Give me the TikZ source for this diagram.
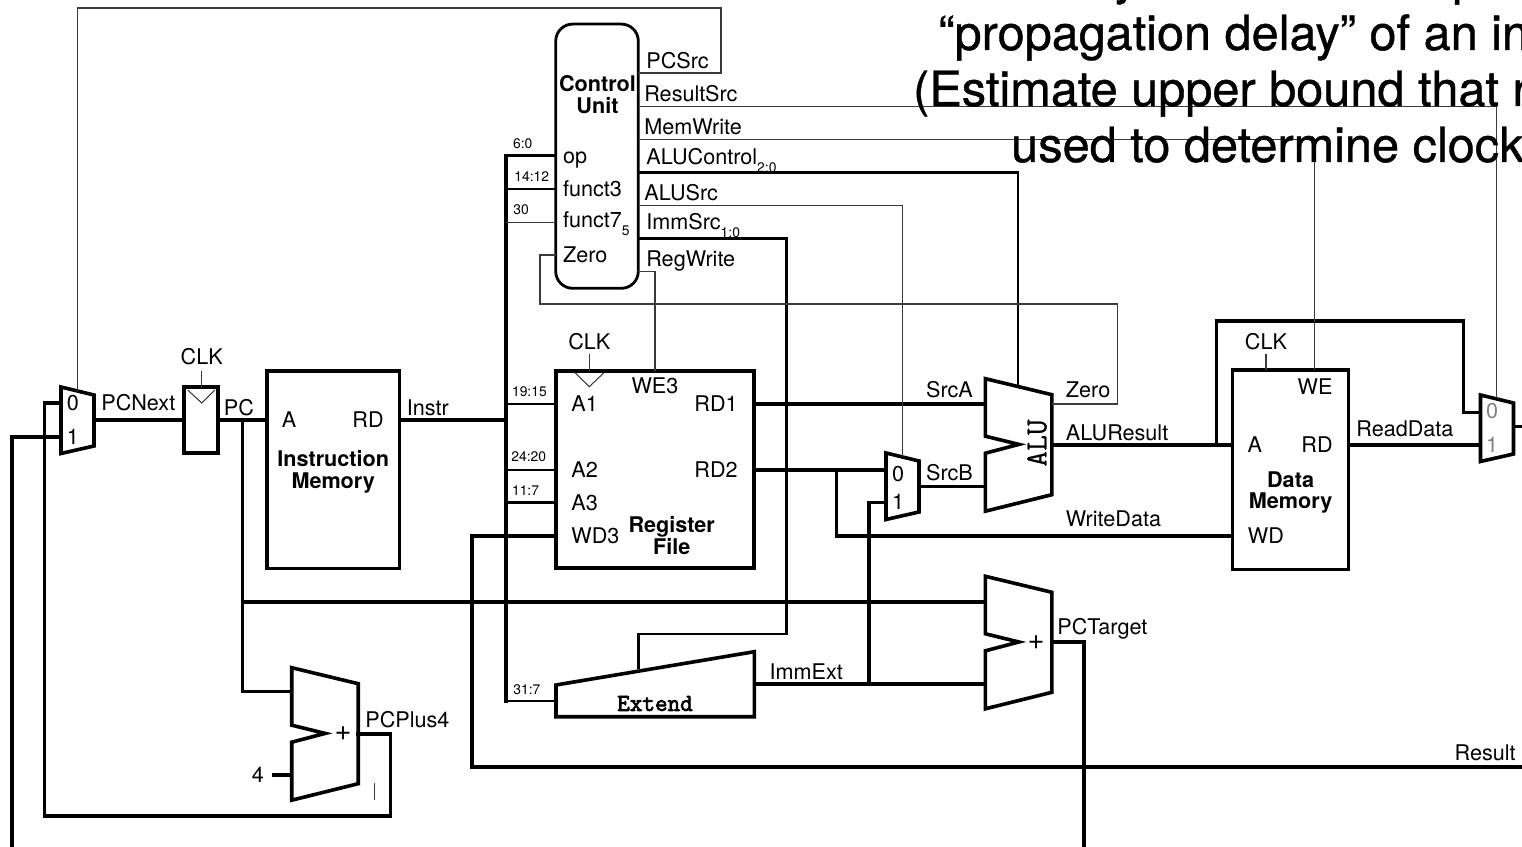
\documentclass[tikz,border=0pt]{standalone}
\usepackage{fontspec}
\setmainfont{TeX Gyre Heros}
\newfontfamily\headfont[FakeBold=0.8]{TeX Gyre Heros}
\newfontfamily\codefont[FakeBold=0.7]{Latin Modern Mono}
\newfontfamily\extfont[FakeBold=3]{Latin Modern Mono}
\usepackage{xcolor}
\definecolor{muxgrey}{HTML}{808080}
\definecolor{ctrl}{HTML}{3A3A3A}
\newcommand{\subtxt}[1]{\raisebox{-4.6pt}{\fontsize{7.9}{8}\selectfont #1}}
\tikzset{
  blockbox/.style={draw,line width=2.05pt,outer sep=0pt,inner sep=0pt},
  blockline/.style={line width=2.05pt,line join=miter},
  wire/.style={line width=2pt,line join=miter,line cap=rect},
  midwire/.style={line width=1.4pt,line join=miter,line cap=rect},
  ctrlwire/.style={line width=0.6pt,ctrl,line join=miter},
  sig/.style={font=\fontsize{12.3}{14}\selectfont,inner sep=0pt,text height=8.9pt,text depth=0pt},
  sigl/.style={sig,anchor=west},
  tinylbl/.style={font=\fontsize{7.9}{9}\selectfont,inner sep=0pt,text height=5.7pt,text depth=0pt,anchor=west},
  boldlbl/.style={font=\fontsize{12.3}{12.5}\selectfont\bfseries,inner sep=0pt,align=center},
  pluslbl/.style={font=\fontsize{16.5}{18}\selectfont,inner sep=0pt},
  headline/.style={font=\fontsize{27.7}{30}\headfont,inner sep=0pt,anchor=base west}
}

\begin{document}
\begin{tikzpicture}[x=0.02cm,y=-0.02cm]
  \useasboundingbox (0,0) rectangle (1522,847);
  \clip (0,0) rectangle (1522,847);

  % Pins and wire corners
  \foreach \pin/\px/\py in {
    pcMuxIn0/61/403, pcMuxIn1/61/437, pcMuxOut/95/420, pcMuxSel/77.7/391,
    pcRegIn/184/420, pcRegOut/218/420, pcClkTop/201.7/371, pcClkBot/201.7/387,
    pcTapA/242.5/420, pcTapB/242.5/602, imA/267/420, imRD/399.5/420,
    plusInA/291.7/691.7, plusInB/291.7/775, plusFour/274/775, plusOut/358/734,
    plusCorner/390.7/816, loopCorner/44.5/816, pcInEnd/12/850,
    cursorTop/374.3/783, cursorBot/374.3/800,
    busTop/506/155.7, busTap/506/420, busBot/506/701,
    cuOp/555.7/155.7, cuFn3/555.7/189, cuFn7/555.7/222.3, cuZero/555.7/255,
    tapFn3/506/189, tapFn7/506/222.3,
    cuPCSrc/638.3/73, cuRes/638.3/106.7, cuMem/638.3/139.3, cuALU/638.3/172.7,
    cuSrc/638.3/205.7, cuImm/638.3/238.7, cuReg/638.3/271.7,
    topRight/721/8, zeroLeft/540/304, zeroRight/1117.5/304, aluZero/1052/404,
    rfWE/655/370.7, rfClkTop/589.3/354, rfClkBot/589.3/370.7,
    tapA1/506/404, tapA2/506/470, tapA3/506/502.7,
    rfA1/556/404, rfA2/556/470, rfA3/556/502.7, rfWD/556/536,
    rfRD1/754.3/404, rfRD2/754.3/470,
    immDrop/786.7/634, immBend/638.3/634, extTop/638.3/668, extIn/556/701,
    extOut/754.3/684, immTap/869/684, srcbIn0/886/470, srcbIn1/886/502.3,
    srcbOut/919/486.7, srcbSel/902.6/456.7, wdTap/836.7/470,
    aluInA/985.4/404, aluInB/985.4/486.7, aluCtl/1018/386.6, aluOut/1052/445,
    tgtInA/985.4/602, tgtInB/985.4/684, tgtOut/1052/642, tgtEnd/1084/850,
    dmA/1232.7/445, dmWD/1232.7/536, dmRD/1348.4/445, dmWE/1314.7/370,
    dmClkTop/1266/354, dmClkBot/1266/370, dmTap/1216.7/445,
    resLoop/1463.6/321, resIn0/1480.5/412.3, resIn1/1480.5/445,
    resOut/1513.4/426.7, resEnd/1525/426.7, resSel/1496.6/398,
    resultCorner/472/767, resultEnd/1525/767
  } \coordinate (\pin) at (\px,\py);

  % Blocks
  \node[blockbox,minimum width=0.68cm,minimum height=1.326cm] (PCReg) at (201,420) {};
  \node[blockbox,minimum width=2.65cm,minimum height=3.96cm] (InstrMem) at (333.2,469.7) {};
  \node[blockbox,minimum width=3.966cm,minimum height=3.952cm] (RegFile) at (655.1,469.5) {};
  \node[blockbox,minimum width=2.314cm,minimum height=3.986cm] (DataMem) at (1290.5,469.7) {};
  \node[draw,line width=1.6pt,rounded corners=0.34cm,outer sep=0pt,inner sep=0pt,minimum width=1.652cm,minimum height=5.286cm] (CtrlUnit) at (597,156.2) {};

  % Muxes and adders
  \foreach \mx/\my in {61/387, 886/453, 1480.5/395}
    \draw[blockline,shift={(\mx,\my)}] (0,0) -- (33,8) -- (33,59) -- (0,66.5) -- cycle;
  \foreach \ax/\ay in {985.4/378.7, 985.4/576.3, 291.7/667.7}
    \draw[blockline,shift={(\ax,\ay)}] (0,0) -- (66.5,16) -- (66.5,116) -- (0,132.5)
      -- (0,74.5) -- (33.5,65.7) -- (0,57.5) -- cycle;
  \draw[blockline] (556,685) -- (754.3,651.7) -- (754.3,716.7) -- (556,716.7) -- cycle;

  % Clock triangles
  \draw[ctrlwire] (187.7,390) -- (201.7,403) -- (215,390);
  \draw[ctrlwire] (575,372.7) -- (589.3,386.7) -- (604,372.7);

  % Datapath
  \draw[wire] (pcMuxOut) -- (pcRegIn);
  \draw[wire] (pcRegOut) -- (imA);
  \draw[wire] (pcTapA) |- (plusInA);
  \draw[wire] (pcTapB) -- (tgtInA);
  \draw[wire] (plusFour) -- (plusInB);
  \draw[wire] (plusOut) -| (plusCorner) -- (loopCorner) |- (pcMuxIn0);
  \draw[wire] (pcMuxIn1) -| (pcInEnd);
  \draw[wire] (imRD) -- (busTap);
  \draw[wire] (busTop) -- (busBot);
  \draw[midwire] (busTop) -- (cuOp);
  \draw[midwire] (tapFn3) -- (cuFn3);
  \draw[midwire] (tapA1) -- (rfA1);
  \draw[midwire] (tapA2) -- (rfA2);
  \draw[midwire] (tapA3) -- (rfA3);
  \draw[midwire] (busBot) -- (extIn);
  \draw[wire] (rfRD1) -- (aluInA);
  \draw[wire] (rfRD2) -- (srcbIn0);
  \draw[wire] (wdTap) |- (dmWD);
  \draw[wire] (srcbOut) -- (aluInB);
  \draw[wire] (extOut) -- (tgtInB);
  \draw[wire] (immTap) |- (srcbIn1);
  \draw[wire] (tgtOut) -| (tgtEnd);
  \draw[wire] (aluOut) -- (dmA);
  \draw[wire] (dmTap) |- (resLoop) |- (resIn0);
  \draw[wire] (dmRD) -- (resIn1);
  \draw[wire] (resOut) -- (resEnd);
  \draw[wire] (rfWD) -| (resultCorner) |- (resultEnd);

  % Control lines
  \draw[midwire] (cuALU) -| (aluCtl);
  \draw[midwire] (cuImm) -| (immDrop) -| (extTop);
  \draw[ctrlwire] (cuPCSrc) -| (topRight) -| (pcMuxSel);
  \draw[ctrlwire] (cuRes) -| (resSel);
  \draw[ctrlwire] (cuMem) -| (dmWE);
  \draw[ctrlwire] (cuSrc) -| (srcbSel);
  \draw[ctrlwire] (cuReg) -| (rfWE);
  \draw[ctrlwire] (tapFn7) -- (cuFn7);
  \draw[ctrlwire] (cuZero) -| (zeroLeft) |- (zeroRight) |- (aluZero);
  \draw[ctrlwire] (pcClkTop) -- (pcClkBot);
  \draw[ctrlwire] (rfClkTop) -- (rfClkBot);
  \draw[ctrlwire] (dmClkTop) -- (dmClkBot);
  \draw[ctrlwire] (cursorTop) -- (cursorBot);

  % PC side
  \node[sig] (muxZero) at (73,403) {0};
  \node[sig] (muxOne) at (73,437) {1};
  \node[sigl] (lblPCNext) at (101,403) {PCNext};
  \node[sig] (lblClkPC) at (201.7,357) {CLK};
  \node[sig] (lblPC) at (239,407.5) {PC};
  \node[sig] (pinA) at (289,420) {A};
  \node[sig] (pinRD) at (368,420) {RD};
  \node[boldlbl] (lblInstrMem) at (333.2,472) {Instruction\\Memory};
  \node[sigl] (lblInstr) at (406.5,407.5) {Instr};
  \node[sig] (lblFour) at (258,775) {4};
  \node[pluslbl] (lblPlusA) at (343,734) {+};
  \node[sigl] (lblPCPlus) at (365,719.5) {PCPlus4};

  % Control unit
  \node[boldlbl] (lblCtrl) at (597.5,94.5) {Control\\Unit};
  \node[sigl] (pinOp) at (562.7,156) {op};
  \node[sigl] (pinFnA) at (562.7,189) {funct3};
  \node[sigl] (pinFnB) at (562.7,219.5) {funct7\subtxt{5}};
  \node[sigl] (pinZero) at (562.7,255) {Zero};
  \node[sigl] (lblPCSrc) at (646,61) {PCSrc};
  \node[sigl] (lblRes) at (644,94) {ResultSrc};
  \node[sigl] (lblMem) at (644,126.7) {MemWrite};
  \node[sigl] (lblALUCtl) at (646,157) {ALUControl\subtxt{2:0}};
  \node[sigl] (lblALUSrc) at (644,192.7) {ALUSrc};
  \node[sigl] (lblImm) at (646,221.7) {ImmSrc\subtxt{1:0}};
  \node[sigl] (lblReg) at (646,258.5) {RegWrite};
  \node[tinylbl] (bitsOp) at (512.7,143.5) {6:0};
  \node[tinylbl] (bitsFnA) at (514,176.7) {14:12};
  \node[tinylbl] (bitsFnB) at (513,209.5) {30};

  % Register file
  \node[sig] (lblClkRF) at (589.3,341.7) {CLK};
  \node[sig] (pinWEA) at (655,386) {WE3};
  \node[sigl] (pinAa) at (571,403.5) {A1};
  \node[sigl] (pinAb) at (571,469.5) {A2};
  \node[sigl] (pinAc) at (571,502.5) {A3};
  \node[sigl] (pinWDA) at (571,535.5) {WD3};
  \node[sig,anchor=east] (pinRa) at (738,403.5) {RD1};
  \node[sig,anchor=east] (pinRb) at (738,469.5) {RD2};
  \node[boldlbl] (lblRegFile) at (671.7,536) {Register\\File};
  \node[tinylbl] (bitsAa) at (511.7,391) {19:15};
  \node[tinylbl] (bitsAb) at (511,456.7) {24:20};
  \node[tinylbl] (bitsAc) at (511.7,490) {11:7};
  \node[tinylbl] (bitsExt) at (513,689) {31:7};
  \node[font=\fontsize{13.9}{15}\extfont,inner sep=0pt] (lblExtend) at (655,703.5) {Extend};
  \node[sigl] (lblImmExt) at (769.3,672) {ImmExt};

  % ALU
  \node[sig] (srcbZero) at (898,473.3) {0};
  \node[sig] (srcbOne) at (898,502) {1};
  \node[sig] (lblSrcA) at (949.5,390) {SrcA};
  \node[sig] (lblSrcB) at (949.5,473) {SrcB};
  \node[font=\fontsize{17.5}{18}\codefont,inner sep=0pt,rotate=90] (lblALU) at (1037,443) {ALU};
  \node[sigl] (lblZero) at (1065.6,390) {Zero};
  \node[sigl] (lblALURes) at (1065.6,432.7) {ALUResult};
  \node[sigl] (lblWrite) at (1065.6,518.3) {WriteData};
  \node[pluslbl] (lblPlusB) at (1036,643) {+};
  \node[sigl] (lblTarget) at (1057,627) {PCTarget};

  % Data memory
  \node[sig] (lblClkDM) at (1266,341.7) {CLK};
  \node[sig] (pinWEB) at (1315,386.7) {WE};
  \node[sig] (pinAd) at (1254.7,445) {A};
  \node[sig] (pinRc) at (1317,445) {RD};
  \node[sigl] (pinWDB) at (1247.5,535.5) {WD};
  \node[boldlbl] (lblDataMem) at (1290.6,492.5) {Data\\Memory};
  \node[sigl] (lblRead) at (1356,428.3) {ReadData};
  \node[sig,muxgrey] (resZero) at (1492,411) {0};
  \node[sig,muxgrey] (resOne) at (1492,444.3) {1};
  \node[sig,anchor=east] (lblResult) at (1516,753) {Result};

  % Heading over the wires
  \node[headline] (headY) at (1114,-6) {y};
  \node[headline] (headP) at (1452,-6) {p};
  \node[headline] (headB) at (938,50) {“propagation delay” of an in};
  \node[headline] (headC) at (912.8,106) {(Estimate upper bound that r};
  \node[headline] (headD) at (1010.9,162) {used to determine clock};
\end{tikzpicture}
\end{document}
